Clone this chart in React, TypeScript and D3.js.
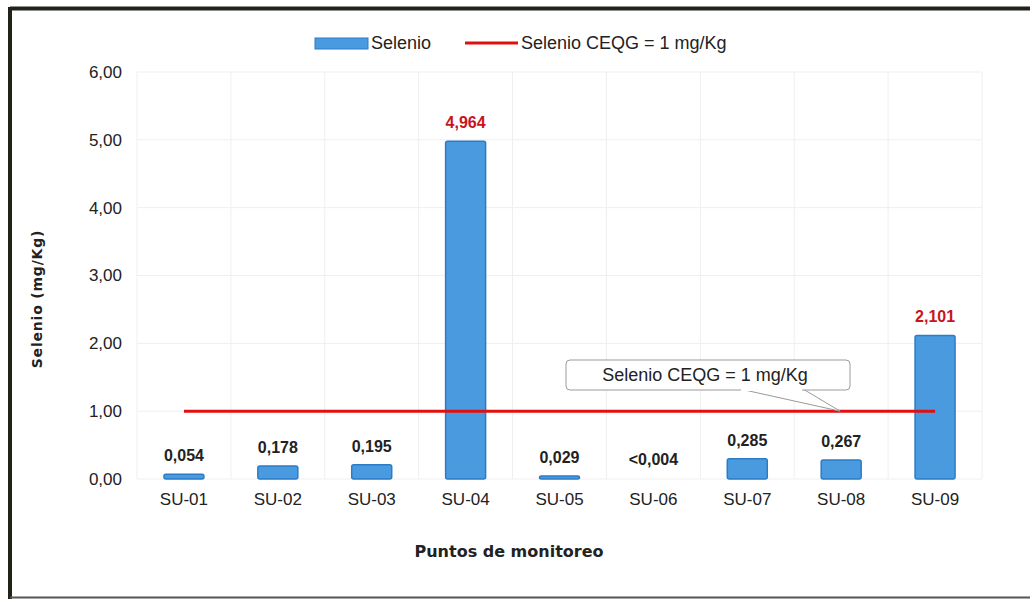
import React from 'react';
import * as d3 from 'd3';

// Monitoring points and selenium concentrations (mg/Kg)
const puntos = ['SU-01', 'SU-02', 'SU-03', 'SU-04', 'SU-05', 'SU-06', 'SU-07', 'SU-08', 'SU-09'];
const selenio = [0.054, 0.178, 0.195, 4.964, 0.029, 0.004, 0.285, 0.267, 2.101];
const etiquetas = ['0,054', '0,178', '0,195', '4,964', '0,029', '<0,004', '0,285', '0,267', '2,101'];
const limiteCEQG = 1;
const yTicks = [0, 1, 2, 3, 4, 5, 6];

const W = 1030;
const H = 599;
const FONT = '"Liberation Sans", Arial, sans-serif';
const TITLE_FONT = '"DejaVu Sans", Verdana, sans-serif';

export default function App() {
  const x = d3.scaleBand<string>()
    .domain(puntos)
    .range([137, 982])
    .paddingInner(0.574)
    .paddingOuter(0.287);

  const y = d3.scaleLinear().domain([0, 6]).range([479, 72]);

  const step = x.step();
  const bw = x.bandwidth();
  const cx = (p: string) => (x(p) ?? 0) + bw / 2;

  const lineX1 = cx(puntos[0]);
  const lineX2 = cx(puntos[puntos.length - 1]);
  const yLim = y(limiteCEQG);

  // band boundaries for the faint vertical grid
  const vGrid = d3.range(puntos.length + 1).map(i => x.range()[0] + i * step);

  const fmt = (v: number) => d3.format('.2f')(v).replace('.', ',');

  return (
    <div style={{ position: 'absolute', left: 0, top: 0 }}>
      <svg width={W} height={H} style={{ display: 'block', fontFamily: FONT }}>
        <rect x={0} y={0} width={W} height={H} fill="#ffffff" />

        {/* frame */}
        <line x1={10} x2={W} y1={8.5} y2={8.5} stroke="#1e2418" strokeWidth={4} />
        <line x1={10} x2={10} y1={7} y2={H} stroke="#1e2418" strokeWidth={4} />
        <line x1={10} x2={W} y1={597.5} y2={597.5} stroke="#555" strokeWidth={2} />

        {/* grid */}
        {yTicks.map(t => (
          <line key={'h' + t} x1={x.range()[0]} x2={x.range()[1]} y1={y(t)} y2={y(t)}
            stroke="#efefef" strokeWidth={1} />
        ))}
        {vGrid.map((gx, i) => (
          <line key={'v' + i} x1={gx} x2={gx} y1={y(6)} y2={y(0)} stroke="#efefef" strokeWidth={1} />
        ))}

        {/* y tick labels */}
        {yTicks.map(t => (
          <text key={'yt' + t} x={122} y={y(t)} dy="0.35em" textAnchor="end"
            fontSize={17} fill="#222">{fmt(t)}</text>
        ))}

        {/* bars (values below detection limit are not visible) */}
        {puntos.map((p, i) => {
          const h = y(0) - y(selenio[i]);
          if (h < 1) return null;
          return (
            <rect key={p} x={x(p)} y={y(selenio[i]) - 1} width={bw} height={h + 1}
              fill="#4a9ae0" stroke="#2b7cc6" strokeWidth={1.5} rx={2} />
          );
        })}

        {/* limit line */}
        <line x1={lineX1} x2={lineX2} y1={yLim} y2={yLim} stroke="#e01010" strokeWidth={3} />

        {/* data labels */}
        {puntos.map((p, i) => (
          <text key={'l' + p} x={cx(p)} y={y(selenio[i]) - 14} textAnchor="middle"
            fontSize={16} fontWeight="bold"
            fill={selenio[i] > limiteCEQG ? '#c8141e' : '#222'}>{etiquetas[i]}</text>
        ))}

        {/* category labels */}
        {puntos.map(p => (
          <text key={'c' + p} x={cx(p)} y={505} textAnchor="middle" fontSize={17} fill="#222">{p}</text>
        ))}

        {/* callout annotation */}
        <path d={`M740,389 L${cx('SU-08') - 1},${yLim} L803,389`} fill="#ffffff" stroke="#9a9a9a" strokeWidth={1} />
        <rect x={566} y={360} width={284} height={30} rx={4} fill="#ffffff" stroke="#9a9a9a" strokeWidth={1} />
        <line x1={741} x2={802} y1={390} y2={390} stroke="#ffffff" strokeWidth={2} />
        <text x={705} y={375} dy="0.35em" textAnchor="middle" fontSize={18} fill="#222">Selenio CEQG = 1 mg/Kg</text>

        {/* legend */}
        <rect x={315} y={38} width={53} height={11} fill="#4a9ae0" stroke="#2b7cc6" strokeWidth={1} />
        <text x={371} y={43} dy="0.35em" fontSize={18} fill="#222">Selenio</text>
        <line x1={465} x2={518} y1={43} y2={43} stroke="#e01010" strokeWidth={3} />
        <text x={521} y={43} dy="0.35em" fontSize={18} fill="#222">Selenio CEQG = 1 mg/Kg</text>

        {/* axis titles */}
        <text transform={`translate(37,299) rotate(-90)`} dy="0.35em" textAnchor="middle"
          fontFamily={TITLE_FONT} fontSize={14} fontWeight="bold" letterSpacing={0.8} fill="#222">Selenio (mg/Kg)</text>
        <text x={509} y={551} dy="0.35em" textAnchor="middle" fontFamily={TITLE_FONT}
          fontSize={16} fontWeight="bold" fill="#222">Puntos de monitoreo</text>
      </svg>
    </div>
  );
}
